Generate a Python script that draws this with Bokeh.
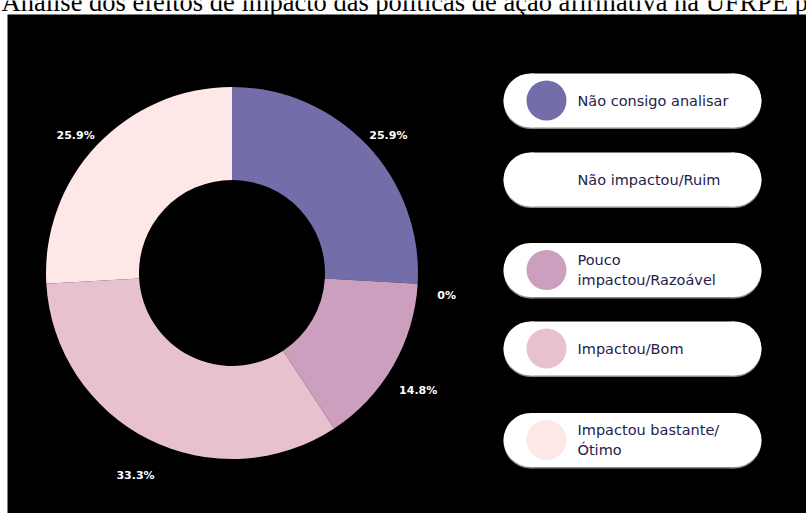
import math
from bokeh.plotting import figure
from bokeh.models import Range1d, ColumnDataSource
from bokeh.embed import file_html
from bokeh.resources import INLINE
from bokeh.core.properties import value

# ---------------- data ----------------
title_text = "Análise dos efeitos de impacto das políticas de ação afirmativa na UFRPE p"
categories = ["Não consigo analisar", "Não impactou/Ruim", "Pouco impactou/Razoável",
              "Impactou/Bom", "Impactou bastante/Ótimo"]
legend_lines = [["Não consigo analisar"], ["Não impactou/Ruim"], ["Pouco", "impactou/Razoável"],
                ["Impactou/Bom"], ["Impactou bastante/", "Ótimo"]]
percentages = [25.9, 0.0, 14.8, 33.3, 25.9]
colors = ["#736DA9", "#FFFFFF", "#CC9FBF", "#E8C1CE", "#FEE7E7"]

# ---------------- layout (canvas pixels) ----------------
W, H = 806, 513
PANEL_LEFT, PANEL_TOP = 7, 14


def py(y):
    """canvas y (from top) -> data y"""
    return H - y


cx, cy = 231.5, py(272.5)
r_out, r_in = 186, 93
label_r = 215
pill_left, pill_right, pill_h = 503, 761, 54
pill_centers = [100, 179, 269.5, 348, 439.5]
dot_x, dot_r = 546, 20
text_x = 577
line_gap = 20

p = figure(width=W, height=H, output_backend="svg", toolbar_location=None,
           x_range=Range1d(0, W), y_range=Range1d(0, H),
           x_axis_location=None, y_axis_location=None,
           min_border_left=0, min_border_right=0, min_border_bottom=0, min_border_top=0)
p.background_fill_color = "white"
p.border_fill_color = "white"
p.outline_line_color = None
p.grid.visible = False

# black panel behind the chart
p.quad(left=[PANEL_LEFT], right=[W], bottom=[0], top=[py(PANEL_TOP)],
       fill_color="black", line_color=None)

# ---------------- title (clipped at the top edge, as in the reference) ----------------
p.text(x=[1], y=[py(1.5)], text=[title_text], text_font=value("Liberation Serif"),
       text_font_size="26.5px", text_color="black", text_baseline="alphabetic",
       text_align="left")

# ---------------- donut ----------------
total = sum(percentages)
starts, ends, mids = [], [], []
cum = 0.0
for v in percentages:
    a0 = math.pi / 2 - 2 * math.pi * cum / total
    cum += v
    a1 = math.pi / 2 - 2 * math.pi * cum / total
    starts.append(a0)
    ends.append(a1)
    mids.append((a0 + a1) / 2)

keep = [i for i, v in enumerate(percentages) if v > 0]
wsrc = ColumnDataSource(dict(start=[starts[i] for i in keep], end=[ends[i] for i in keep],
                             color=[colors[i] for i in keep], cat=[categories[i] for i in keep]))
p.annular_wedge(x=cx, y=cy, inner_radius=r_in, outer_radius=r_out,
                start_angle="start", end_angle="end", direction="clock",
                fill_color="color", line_color=None, source=wsrc)

lab_txt = [f"{v:g}%" for v in percentages]
lsrc = ColumnDataSource(dict(
    x=[cx + label_r * math.cos(m) for m in mids],
    y=[cy + label_r * math.sin(m) for m in mids],
    t=lab_txt))
p.text(x="x", y="y", text="t", source=lsrc, text_color="white",
       text_font=value("DejaVu Sans"), text_font_style="bold", text_font_size="11px",
       text_align="center", text_baseline="middle", y_offset=10)

# ---------------- legend pills ----------------
pys = [py(c) for c in pill_centers]
mid_x = (pill_left + pill_right) / 2
body_w = (pill_right - pill_left) - pill_h
# soft shadow
p.rect(x=[mid_x] * 5, y=[y - 1.5 for y in pys], width=body_w, height=pill_h,
       fill_color="#8a8a8a", line_color=None)
p.circle(x=[pill_left + pill_h / 2] * 5 + [pill_right - pill_h / 2] * 5,
         y=[y - 1.5 for y in pys] * 2, radius=pill_h / 2,
         fill_color="#8a8a8a", line_color=None)
# pill
p.rect(x=[mid_x] * 5, y=pys, width=body_w, height=pill_h,
       fill_color="white", line_color=None)
p.circle(x=[pill_left + pill_h / 2] * 5 + [pill_right - pill_h / 2] * 5,
         y=pys * 2, radius=pill_h / 2, fill_color="white", line_color=None)
# colour dots
p.circle(x=[dot_x] * 5, y=pys, radius=dot_r, fill_color=colors, line_color=None)

tx, ty, tt = [], [], []
for lines, yc in zip(legend_lines, pys):
    n = len(lines)
    for j, s in enumerate(lines):
        tx.append(text_x)
        ty.append(yc - (j - (n - 1) / 2) * line_gap)
        tt.append(s)
p.text(x=tx, y=ty, text=tt, text_color="#25224A", text_font=value("DejaVu Sans"),
       text_font_size="14.5px", text_align="left", text_baseline="middle")

open("out.html", "w").write(file_html(p, INLINE))
